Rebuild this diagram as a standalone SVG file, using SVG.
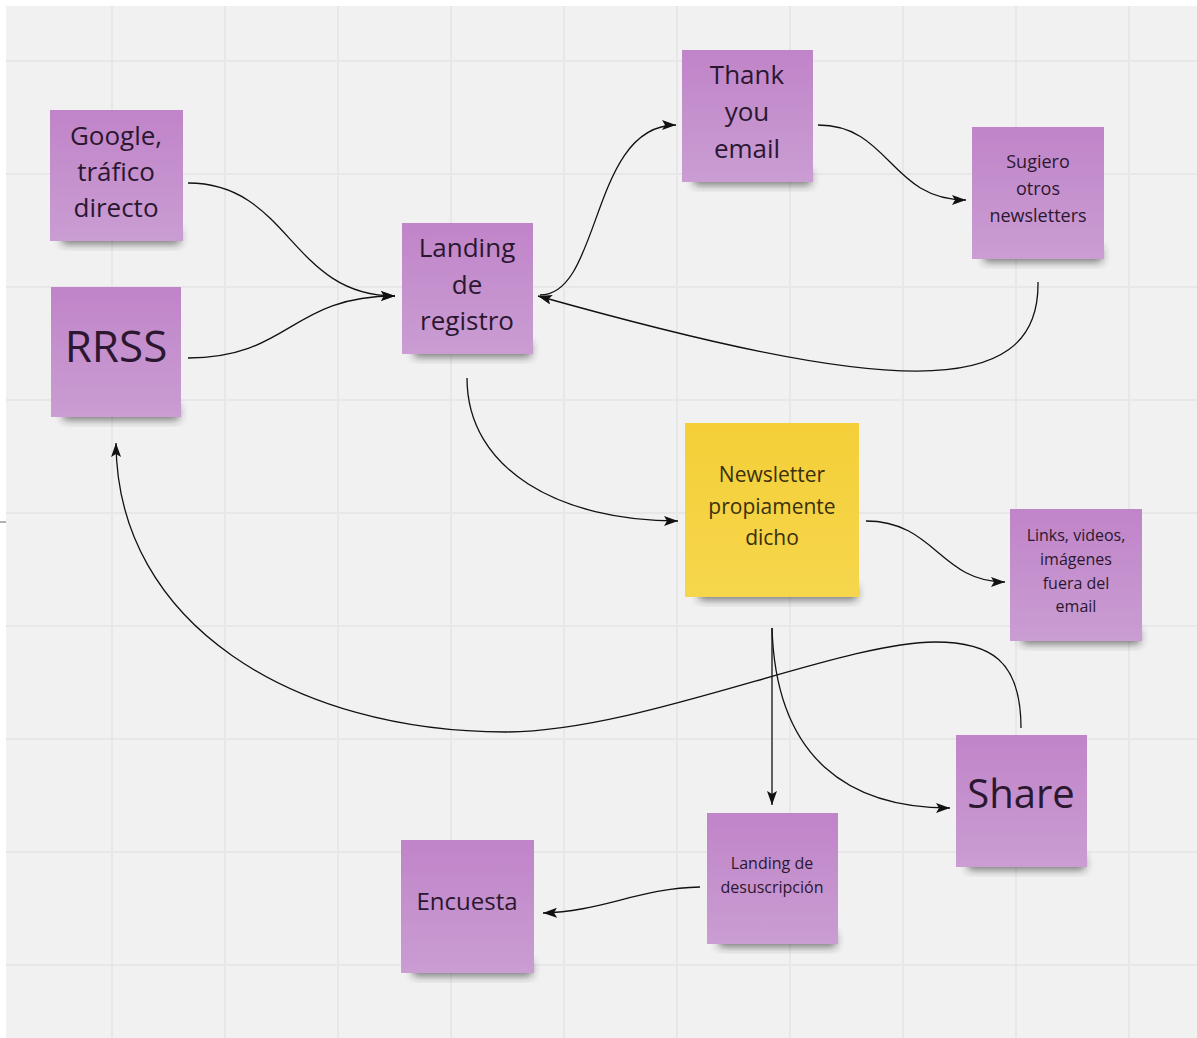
<svg xmlns="http://www.w3.org/2000/svg" width="1197" height="1038" viewBox="0 0 1197 1038">
<defs>
<style>
.grid line{stroke:#e7e7e7;stroke-width:2}
.note{fill:url(#purple)}
.yel{fill:url(#yellow)}
.shadow{fill:#222;opacity:0.6;filter:url(#blur)}
text{font-family:"Open Sans","Noto Sans","DejaVu Sans",sans-serif;text-anchor:middle;fill:#2b1730}
.yt{fill:#3b300c}
.conn path{fill:none;stroke:#111;stroke-width:1.3}
</style>
<linearGradient id="purple" x1="0" y1="0" x2="0" y2="1">
<stop offset="0" stop-color="#c084c8"/>
<stop offset="1" stop-color="#ca9dd3"/>
</linearGradient>
<linearGradient id="yellow" x1="0" y1="0" x2="0" y2="1">
<stop offset="0" stop-color="#f4cf38"/>
<stop offset="1" stop-color="#f6d64c"/>
</linearGradient>
<filter id="blur" x="-20%" y="-50%" width="140%" height="200%">
<feGaussianBlur stdDeviation="4"/>
</filter>
<marker id="arrow" markerUnits="userSpaceOnUse" markerWidth="16" markerHeight="12" refX="14" refY="5" orient="auto">
<path d="M0,0 L14,5 L0,10 L3,5 Z" fill="#111"/>
</marker>
</defs>
<rect width="1197" height="1038" fill="#ffffff"/>
<rect x="6" y="6" width="1191" height="1032" fill="#f1f1f1"/>
<g class="grid">
<line x1="112" y1="6" x2="112" y2="1038"/>
<line x1="225" y1="6" x2="225" y2="1038"/>
<line x1="338" y1="6" x2="338" y2="1038"/>
<line x1="451" y1="6" x2="451" y2="1038"/>
<line x1="564" y1="6" x2="564" y2="1038"/>
<line x1="677" y1="6" x2="677" y2="1038"/>
<line x1="790" y1="6" x2="790" y2="1038"/>
<line x1="903" y1="6" x2="903" y2="1038"/>
<line x1="1016" y1="6" x2="1016" y2="1038"/>
<line x1="1129" y1="6" x2="1129" y2="1038"/>
<line x1="6" y1="61" x2="1197" y2="61"/>
<line x1="6" y1="174" x2="1197" y2="174"/>
<line x1="6" y1="287" x2="1197" y2="287"/>
<line x1="6" y1="400" x2="1197" y2="400"/>
<line x1="6" y1="513" x2="1197" y2="513"/>
<line x1="6" y1="626" x2="1197" y2="626"/>
<line x1="6" y1="739" x2="1197" y2="739"/>
<line x1="6" y1="852" x2="1197" y2="852"/>
<line x1="6" y1="965" x2="1197" y2="965"/>
</g>
<line x1="0" y1="522" x2="6" y2="522" stroke="#9a9a9a" stroke-width="1.5"/>

<g class="conn">
<path d="M188,183 C290,183 290,296 395,296" marker-end="url(#arrow)"/>
<path d="M188,358 C290,358 290,296 395,296" marker-end="url(#arrow)"/>
<path d="M540,295 C602,295 590,125 676,125" marker-end="url(#arrow)"/>
<path d="M818,125 C890,125 890,200 966,200" marker-end="url(#arrow)"/>
<path d="M1038,282 C1040,405 880,392 538,296" marker-end="url(#arrow)"/>
<path d="M467,378 C467,470 560,521 678,521" marker-end="url(#arrow)"/>
<path d="M866,521 C935,521 940,582 1005,582" marker-end="url(#arrow)"/>
<path d="M772,628 L772,805" marker-end="url(#arrow)"/>
<path d="M772,628 C776,760 850,808 950,808" marker-end="url(#arrow)"/>
<path d="M1021,728 C1021,660 990,642 935,642 C840,642 640,732 506,732 C295,732 117,625 116,443" marker-end="url(#arrow)"/>
<path d="M700,887 C640,888 600,912 543,913" marker-end="url(#arrow)"/>
</g>

<g id="google">
<rect class="shadow" x="62" y="230" width="118" height="14"/>
<rect class="note" x="50" y="110" width="133" height="131"/>
<text font-size="26"><tspan x="116" y="145">Google,</tspan><tspan x="116" y="181">tráfico</tspan><tspan x="116" y="217">directo</tspan></text>
</g>
<g id="rrss">
<rect class="shadow" x="63" y="406" width="116" height="14"/>
<rect class="note" x="51" y="287" width="130" height="130"/>
<text font-size="44" x="116" y="362">RRSS</text>
</g>
<g id="landing-registro">
<rect class="shadow" x="414" y="343" width="117" height="14"/>
<rect class="note" x="402" y="223" width="131" height="131"/>
<text font-size="26"><tspan x="467" y="257">Landing</tspan><tspan x="467" y="294">de</tspan><tspan x="467" y="330">registro</tspan></text>
</g>
<g id="thank-you">
<rect class="shadow" x="694" y="171" width="117" height="14"/>
<rect class="note" x="682" y="50" width="131" height="132"/>
<text font-size="26"><tspan x="747" y="84">Thank</tspan><tspan x="747" y="121">you</tspan><tspan x="747" y="158">email</tspan></text>
</g>
<g id="sugiero">
<rect class="shadow" x="984" y="248" width="118" height="14"/>
<rect class="note" x="972" y="127" width="132" height="132"/>
<text font-size="18"><tspan x="1038" y="168">Sugiero</tspan><tspan x="1038" y="195">otros</tspan><tspan x="1038" y="222">newsletters</tspan></text>
</g>
<g id="newsletter">
<rect class="shadow" x="699" y="586" width="158" height="14"/>
<rect class="yel" x="685" y="423" width="174" height="174"/>
<text class="yt" font-size="21"><tspan x="772" y="482">Newsletter</tspan><tspan x="772" y="514">propiamente</tspan><tspan x="772" y="545">dicho</tspan></text>
</g>
<g id="links">
<rect class="shadow" x="1022" y="630" width="118" height="14"/>
<rect class="note" x="1010" y="509" width="132" height="132"/>
<text font-size="16"><tspan x="1076" y="541">Links, videos,</tspan><tspan x="1076" y="565">imágenes</tspan><tspan x="1076" y="589">fuera del</tspan><tspan x="1076" y="612">email</tspan></text>
</g>
<g id="share">
<rect class="shadow" x="968" y="856" width="117" height="14"/>
<rect class="note" x="956" y="735" width="131" height="132"/>
<text font-size="40" x="1021" y="808">Share</text>
</g>
<g id="desuscripcion">
<rect class="shadow" x="719" y="933" width="117" height="14"/>
<rect class="note" x="707" y="813" width="131" height="131"/>
<text font-size="16"><tspan x="772" y="869">Landing de</tspan><tspan x="772" y="893">desuscripción</tspan></text>
</g>
<g id="encuesta">
<rect class="shadow" x="413" y="962" width="119" height="14"/>
<rect class="note" x="401" y="840" width="133" height="133"/>
<text font-size="24" x="467" y="910">Encuesta</text>
</g>
</svg>
